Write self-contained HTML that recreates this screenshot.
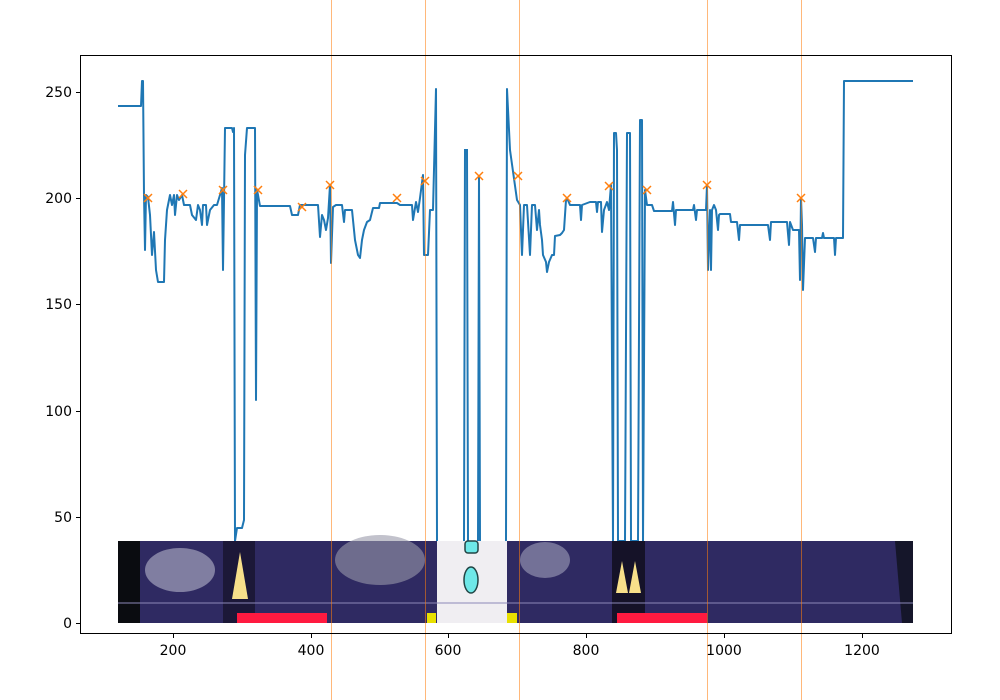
<!DOCTYPE html>
<html><head><meta charset="utf-8"><style>body{margin:0;background:#fff}svg{display:block}text{font-family:"DejaVu Sans","Liberation Sans",sans-serif;font-size:14px;fill:#000}</style></head><body>
<svg width="1000" height="700" viewBox="0 0 1000 700" xmlns="http://www.w3.org/2000/svg">
<rect width="1000" height="700" fill="#fff"/>
<polyline fill="none" stroke="#1f77b4" stroke-width="2" stroke-linejoin="round" points="118,106 141,106 142,81 143,81 144,195 145,250 146,195 148,197 150,215 152,255 154,232 156,270 158,282 164,282 165,240 167,210 170,195 172,205 174,195 175,215 177,195 179,200 182,195 184,205 190,205 192,215 196,220 198,205 200,210 202,225 203,205 206,205 207,225 210,210 214,205 217,205 220,195 222,188 223,270 224,200 225,128 232,128 233,132 234,128 235,541 237,528 242,528 244,520 245,155 247,128 255,128 256,400 257,190 258,195 260,206 290,206 292,215 298,215 300,205 318,205 320,237 322,215 324,220 326,230 328,218 330,185 331,263 333,207 336,205 342,205 344,222 345,210 352,210 355,240 358,255 360,258 362,240 364,230 367,222 370,220 373,208 379,208 380,203 397,203 400,205 406,205 412,205 413,220 416,202 418,212 420,198 423,175 424,255 428,255 430,210 433,210 436,89 437,541"/>
<polyline fill="none" stroke="#1f77b4" stroke-width="2" points="464,541 465,150 467,150 468,541"/>
<polyline fill="none" stroke="#1f77b4" stroke-width="2" points="478,541 479,176 480,541"/>
<polyline fill="none" stroke="#1f77b4" stroke-width="2" stroke-linejoin="round" points="506,541 507,89 510,150 517,200 520,205 522,255 524,205 527,205 530,255 532,205 535,205 537,230 539,210 540,225 542,240 543,255 546,262 547,272 549,262 552,255 554,255 555,236 560,235 562,233 564,230 565,215 566,200 567,198 570,205 580,205 581,220 582,205 590,202 596,202 597,212 598,202 601,202 602,232 604,210 607,202 609,210 611,185 613,541 614,133 616,133 617,150 618,541 625,541 627,133 630,133 631,541 638,541 640,120 642,120 643,541 645,190 647,205 652,205 654,211 672,211 673,202 675,225 676,210 693,210 694,205 696,220 697,210 706,210 707,185 708,270 710,210 711,270 712,210 714,205 716,210 718,230 719,215 720,214 730,214 731,222 737,222 739,240 740,225 768,225 770,240 771,222 787,222 789,245 790,222 793,230 799,230 800,280 801,198 802,225 803,290 805,238 813,238 815,252 816,238 822,238 823,233 824,238 834,238 835,255 836,238 843,238 844,81 913,81"/>
<g stroke="#ff7f0e" stroke-width="1.5">
<path d="M144,194l8,8M144,202l8,-8 M179,190l8,8M179,198l8,-8 M219,186l8,8M219,194l8,-8 M254,186l8,8M254,194l8,-8 M298,203l8,8M298,211l8,-8 M326,181l8,8M326,189l8,-8 M393,194l8,8M393,202l8,-8 M421,177l8,8M421,185l8,-8 M475,172l8,8M475,180l8,-8 M514,172l8,8M514,180l8,-8 M563,194l8,8M563,202l8,-8 M605,182l8,8M605,190l8,-8 M643,186l8,8M643,194l8,-8 M703,181l8,8M703,189l8,-8 M797,194l8,8M797,202l8,-8"/>
</g>
<g>
<rect x="118" y="541" width="795" height="82" fill="#2f2a62"/>
<rect x="118" y="541" width="22" height="82" fill="#0a0c10"/>
<ellipse cx="180" cy="570" rx="35" ry="22" fill="#b8b8cc" opacity="0.6"/>
<rect x="223" y="541" width="32" height="82" fill="#1c1838"/>
<polygon points="232,599 240,552 248,599" fill="#f8e08a"/>
<rect x="237" y="613" width="90" height="10" fill="#ff1a40"/>
<ellipse cx="380" cy="560" rx="45" ry="25" fill="#9a9aaa" opacity="0.6"/>
<rect x="427" y="613" width="9" height="10" fill="#e8e000"/>
<rect x="437" y="541" width="70" height="82" fill="#f0eef2"/>
<rect x="465" y="541" width="13" height="12" rx="3" fill="#6ee8e8" stroke="#244" stroke-width="1.5"/>
<ellipse cx="471" cy="580" rx="7" ry="13" fill="#6ee8e8" stroke="#244" stroke-width="1.5"/>
<rect x="507" y="613" width="10" height="10" fill="#e8e000"/>
<ellipse cx="545" cy="560" rx="25" ry="18" fill="#b8b8cc" opacity="0.5"/>
<rect x="612" y="541" width="33" height="82" fill="#151228"/>
<polygon points="616,593 622,561 628,593" fill="#f8e08a"/>
<polygon points="629,593 635,561 641,593" fill="#f8e08a"/>
<rect x="617" y="613" width="90" height="10" fill="#ff1a40"/>
<polygon points="895,541 913,541 913,623 902,623" fill="#15162a"/>
<line x1="118" y1="603" x2="913" y2="603" stroke="#8c88b8" stroke-width="1"/>
</g>
<g stroke="#ff7f0e" stroke-width="1" opacity="0.55">
<line x1="331.5" y1="0" x2="331.5" y2="700"/><line x1="425.5" y1="0" x2="425.5" y2="700"/><line x1="519.5" y1="0" x2="519.5" y2="700"/><line x1="707.5" y1="0" x2="707.5" y2="700"/><line x1="801.5" y1="0" x2="801.5" y2="700"/>
</g>
<rect x="80.5" y="55.5" width="871" height="578" fill="none" stroke="#000" stroke-width="1"/>
<g stroke="#000" stroke-width="1">
<line x1="76" y1="623.5" x2="80" y2="623.5"/><line x1="76" y1="517.5" x2="80" y2="517.5"/><line x1="76" y1="411.5" x2="80" y2="411.5"/><line x1="76" y1="304.5" x2="80" y2="304.5"/><line x1="76" y1="198.5" x2="80" y2="198.5"/><line x1="76" y1="92.5" x2="80" y2="92.5"/>
<line x1="173.5" y1="634" x2="173.5" y2="638"/><line x1="311.5" y1="634" x2="311.5" y2="638"/><line x1="448.5" y1="634" x2="448.5" y2="638"/><line x1="586.5" y1="634" x2="586.5" y2="638"/><line x1="724.5" y1="634" x2="724.5" y2="638"/><line x1="862.5" y1="634" x2="862.5" y2="638"/>
</g>
<g text-anchor="end">
<text x="72" y="628">0</text><text x="72" y="522">50</text><text x="72" y="416">100</text><text x="72" y="309">150</text><text x="72" y="203">200</text><text x="72" y="97">250</text>
</g>
<g text-anchor="middle">
<text x="173" y="655">200</text><text x="311" y="655">400</text><text x="448" y="655">600</text><text x="586" y="655">800</text><text x="724" y="655">1000</text><text x="862" y="655">1200</text>
</g>
</svg>
</body></html>
